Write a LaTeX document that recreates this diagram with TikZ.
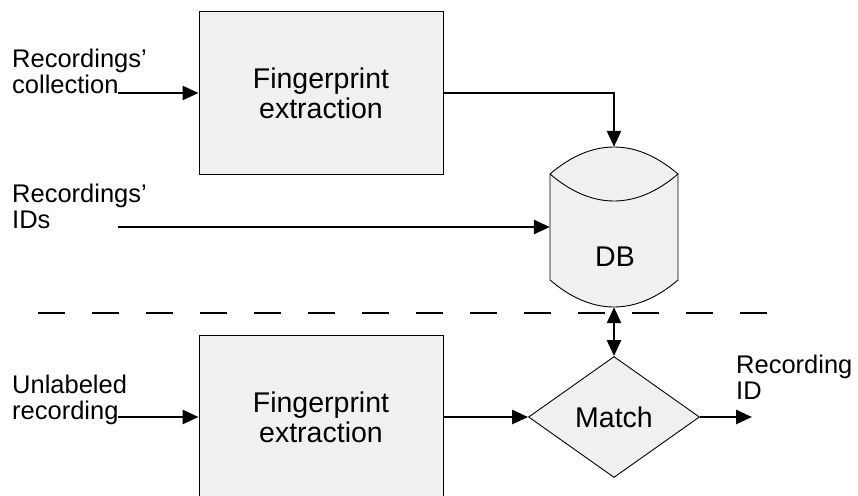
\documentclass[tikz,border=0pt]{standalone}
\usepackage{fontspec}
\setmainfont{Liberation Sans}
\usetikzlibrary{shapes.geometric,arrows.meta}
\begin{document}
\begin{tikzpicture}[x=1pt,y=-1pt,
  procbox/.style={draw=black, line width=0.9pt, fill=boxgray, minimum width=244pt, minimum height=163pt, inner sep=0pt, align=center, font=\fontsize{28.5}{30}\selectfont},
  sidelabel/.style={anchor=base west, inner sep=0pt, font=\fontsize{25.5}{25}\selectfont},
  flow/.style={line width=2.7pt, -{Triangle[length=16pt,width=14pt]}},
  biflow/.style={line width=2.7pt, {Triangle[length=16pt,width=14pt]}-{Triangle[length=16pt,width=14pt]}},
  bigtext/.style={font=\fontsize{28.5}{30}\selectfont, inner sep=0pt}
]
\definecolor{boxgray}{HTML}{F0F0F0}
\useasboundingbox (0,0) rectangle (858,495);
\clip (0,0) rectangle (858,495);

% processing boxes
\node[procbox] (fe1) at (321,93) {Fingerprint\\extraction};
\node[procbox] (fe2) at (321,417) {Fingerprint\\extraction};

% database cylinder
\draw[line width=0.9pt, fill=boxgray] (550,174) .. controls (592,138) and (636,138) .. (678,174) -- (678,280) .. controls (636,316) and (592,316) .. (550,280) -- cycle;
\draw[line width=0.9pt] (550,174) .. controls (592,210) and (636,210) .. (678,174);
\node[minimum width=128pt, minimum height=160pt, inner sep=0pt] (db) at (614,227) {};
\node[bigtext] (dbtext) at (615,257) {DB};

% match diamond
\node[diamond, draw=black, line width=0.9pt, fill=boxgray, minimum width=171pt, minimum height=121pt, inner sep=0pt, aspect=1.41, bigtext] (match) at (614,417) {Match};

% labels
\node[sidelabel] (lcoll) at (12,93) {\begin{tabular}[b]{@{}l@{}}Recordings'\\collection\end{tabular}};
\node[sidelabel] (lids) at (12,228) {\begin{tabular}[b]{@{}l@{}}Recordings'\\IDs\end{tabular}};
\node[sidelabel] (lunl) at (12,419) {\begin{tabular}[b]{@{}l@{}}Unlabeled\\recording\end{tabular}};
\node[sidelabel] (lout) at (736,399) {\begin{tabular}[b]{@{}l@{}}Recording\\ID\end{tabular}};

% connector ends
\coordinate (incoll) at (118,93);
\coordinate (inids) at (118,227);
\coordinate (inunl) at (118,417);
\coordinate (outid) at (752,417);
\coordinate (sepL) at (38,313);
\coordinate (sepR) at (767,313);

% connectors
\draw[flow] (incoll) -- (fe1.west);
\draw[flow] (fe1.east) -| (db.north);
\draw[flow] (inids) -- (db.west);
\draw[flow] (inunl) -- (fe2.west);
\draw[flow] (fe2.east) -- (match.west);
\draw[flow] (match.east) -- (outid);
\draw[biflow] (db.south) -- (match.north);

% separator
\draw[line width=2pt, dash pattern=on 27pt off 27pt] (sepL) -- (sepR);
\end{tikzpicture}
\end{document}
